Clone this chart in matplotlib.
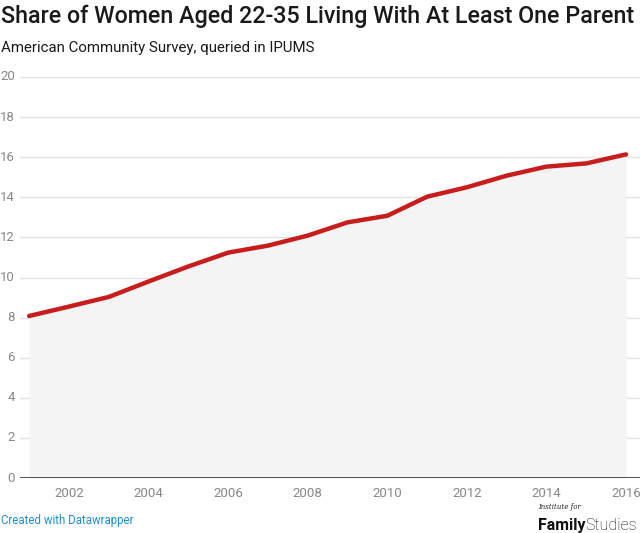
import matplotlib.pyplot as plt

years = list(range(2001, 2017))
share = [8.08, 8.55, 9.03, 9.8, 10.55, 11.24, 11.59, 12.09,
         12.75, 13.08, 14.03, 14.5, 15.08, 15.53, 15.69, 16.14]
yticks = [0, 2, 4, 6, 8, 10, 12, 14, 16, 18, 20]
xticks = [2002, 2004, 2006, 2008, 2010, 2012, 2014, 2016]

plt.rcParams['font.family'] = ['Roboto', 'DejaVu Sans']

fig = plt.figure(figsize=(6.4, 5.33), dpi=100)
ax = fig.add_axes([20 / 640, 55 / 533, 620 / 640, 401 / 533])

ax.fill_between(years, share, 0, color='#f4f4f4', lw=0, zorder=1)
ax.plot(years, share, color='#c71e1d', lw=3.2, solid_capstyle='round',
        solid_joinstyle='round', zorder=3)

ax.set_ylim(0, 20)
ax.set_xlim(2000.77, 2016.35)
for y in yticks[1:]:
    ax.axhline(y, color='#e3e3e3', lw=1, zorder=0)
ax.axhline(0, color='#333333', lw=1.2, zorder=4)

for s in ax.spines.values():
    s.set_visible(False)
ax.set_yticks(yticks)
ax.set_yticklabels([])
ax.tick_params(left=False, bottom=False)
for y in yticks:
    ax.text(-5 / 620, y, str(y), transform=ax.get_yaxis_transform(),
            ha='right', va='center', fontsize=9.5, color='#888888')
ax.set_xticks(xticks)
ax.set_xticklabels([str(x) for x in xticks], fontsize=9.5, color='#888888')
ax.tick_params(axis='x', pad=3)

fig.text(1 / 640, 1 - 23 / 533, 'Share of Women Aged 22-35 Living With At Least One Parent',
         fontsize=16.75, weight='medium', color='#1a1a1a')
fig.text(1 / 640, 1 - 52 / 533, 'American Community Survey, queried in IPUMS',
         fontsize=10.8, color='#1a1a1a')
fig.text(1 / 640, 1 - 524 / 533, 'Created with Datawrapper',
         fontsize=8.3, color='#1f8fd0')
fig.text(538 / 640, 1 - 509 / 533, 'Institute for', fontsize=5,
         style='italic', family='DejaVu Serif', color='#222222')
fig.text(538 / 640, 1 - 530 / 533, 'Family', fontsize=11.5, weight='bold',
         color='#111111')
fig.text(585 / 640, 1 - 530 / 533, 'Studies', fontsize=11.5, weight='light',
         color='#111111')

fig.savefig('out.png', dpi=100)
